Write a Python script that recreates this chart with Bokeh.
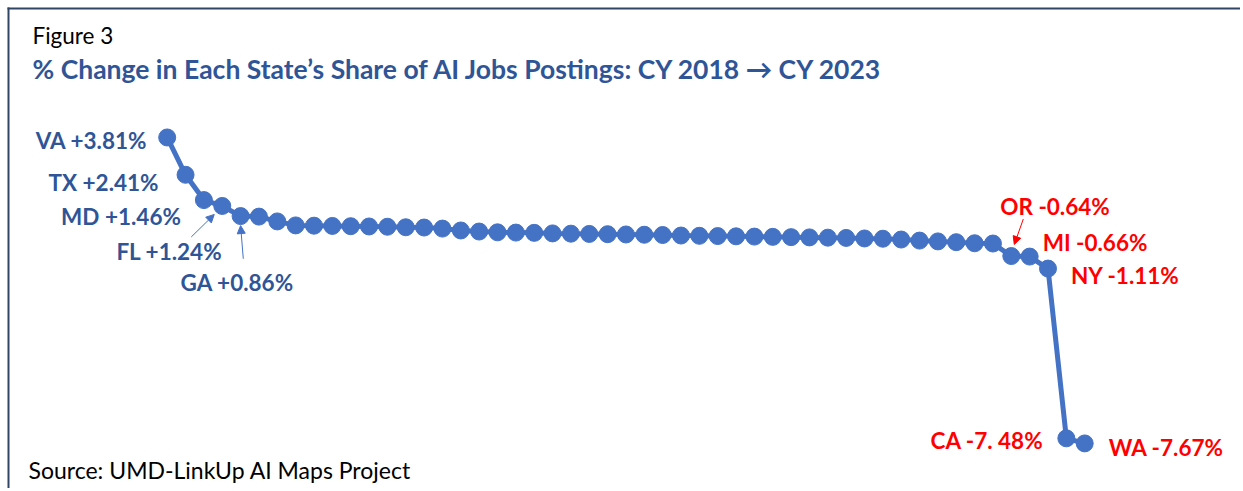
from bokeh.plotting import figure
from bokeh.models import Range1d, Label, BoxAnnotation, Arrow, NormalHead, ColumnDataSource
from bokeh.embed import file_html
from bokeh.resources import INLINE

# ---- data: % change in each state's share of AI job postings, CY2018 -> CY2023 (sorted) ----
values = [3.81, 2.41, 1.46, 1.24, 0.86, 0.84, 0.66, 0.51, 0.50, 0.49, 0.48, 0.47, 0.46,
          0.44, 0.43, 0.39, 0.32, 0.28, 0.25, 0.24, 0.23, 0.21, 0.20, 0.19, 0.18, 0.17,
          0.16, 0.15, 0.13, 0.12, 0.11, 0.10, 0.09, 0.08, 0.07, 0.06, 0.05, 0.04, 0.02,
          0.01, -0.02, -0.06, -0.09, -0.12, -0.16, -0.17, -0.64, -0.66, -1.11, -7.48, -7.67]
rank = list(range(len(values)))

label_index = [0, 1, 2, 3, 4, 46, 47, 48, 49, 50]
label_state = ["VA", "TX", "MD", "FL", "GA", "OR", "MI", "NY", "CA", "WA"]
label_value = ["+3.81%", "+2.41%", "+1.46%", "+1.24%", "+0.86%",
               "-0.64%", "-0.66%", "-1.11%", "-7. 48%", "-7.67%"]

# ---- layout (pixel geometry) ----
W, H = 1240, 488
SX = 18.35          # px per rank step
SY = 26.65          # px per percentage point
X0_PX = 166.7       # px of rank 0 from left edge of canvas
Y0_PX = 238.5       # px of value 0 from top edge of canvas
X_LEFT = -X0_PX / SX
Y_TOP = Y0_PX / SY

def px2x(px):
    return X_LEFT + px / SX

def py2y(py):
    return Y_TOP - py / SY

BLUE = "#4472C4"
DBLUE = "#2F5597"
RED = "#FF0000"
BORDER = "#2F4565"

p = figure(width=W, height=H, output_backend="svg", toolbar_location=None,
           x_range=Range1d(X_LEFT, X_LEFT + W / SX),
           y_range=Range1d(Y_TOP - H / SY, Y_TOP),
           x_axis_type=None, y_axis_type=None, min_border=0)
p.grid.visible = False
p.outline_line_color = None
p.background_fill_color = "white"
p.border_fill_color = "white"

src = ColumnDataSource(dict(x=rank, y=values))
p.line("x", "y", source=src, line_color=BLUE, line_width=5)
p.scatter("x", "y", source=src, size=17, fill_color=BLUE, line_color=BLUE)

# border (top and left edges of the figure box), as thin filled bands
p.add_layout(BoxAnnotation(left=px2x(7), top=py2y(7), bottom=py2y(9),
                           fill_color=BORDER, fill_alpha=1, line_color=None))
p.add_layout(BoxAnnotation(left=px2x(7), right=px2x(9), top=py2y(7),
                           fill_color=BORDER, fill_alpha=1, line_color=None))

# titles
p.add_layout(Label(x=px2x(32), y=py2y(35), text="Figure 3", text_font="Lato",
                   text_font_size="22.5px", text_color="black", text_baseline="middle"))
p.add_layout(Label(x=px2x(32), y=py2y(68),
                   text="% Change in Each State\u2019s Share of AI Jobs Postings: CY 2018 \u2192 CY 2023",
                   text_font="Lato", text_font_style="bold", text_font_size="26.5px",
                   text_color=DBLUE, text_baseline="middle"))
p.add_layout(Label(x=px2x(28), y=py2y(469), text="Source: UMD-LinkUp AI Maps Project",
                   text_font="Lato", text_font_size="23px", text_color="black",
                   text_baseline="middle"))

# point labels: (dx, dy) pixel offsets from the point (dy downward), alignment
offsets = {
    "VA": (-20, 3, "right"), "TX": (-27, 8, "right"), "MD": (-23, 16, "right"),
    "FL": (0, 45.5, "right"), "GA": (-60, 66, "left"), "OR": (-11, -50, "left"),
    "MI": (13, -14, "left"), "NY": (23, 7, "left"), "CA": (-23, 2, "right"),
    "WA": (24, 4, "left"),
}
for i, st, val in zip(label_index, label_state, label_value):
    dx, dy, al = offsets[st]
    color = DBLUE if values[i] > 0 else RED
    p.add_layout(Label(x=rank[i] + dx / SX, y=values[i] - dy / SY, text=f"{st} {val}",
                       text_font="Lato", text_font_style="bold", text_font_size="22.5px",
                       text_color=color, text_align=al, text_baseline="middle"))

# arrows: (state index, tail dx, tail dy, head dx, head dy, color)
arrows = [(3, -31, 31, -8, 8.5, BLUE), (4, 2.7, 42.7, 0, 9.5, BLUE), (46, 12, -37, 3, -11.6, RED)]
for i, tdx, tdy, hdx, hdy, c in arrows:
    p.add_layout(Arrow(x_start=rank[i] + tdx / SX, y_start=values[i] - tdy / SY,
                       x_end=rank[i] + hdx / SX, y_end=values[i] - hdy / SY,
                       line_color=c, line_width=1,
                       end=NormalHead(size=8, fill_color=c, line_color=c)))

open("out.html", "w").write(file_html(p, INLINE))
